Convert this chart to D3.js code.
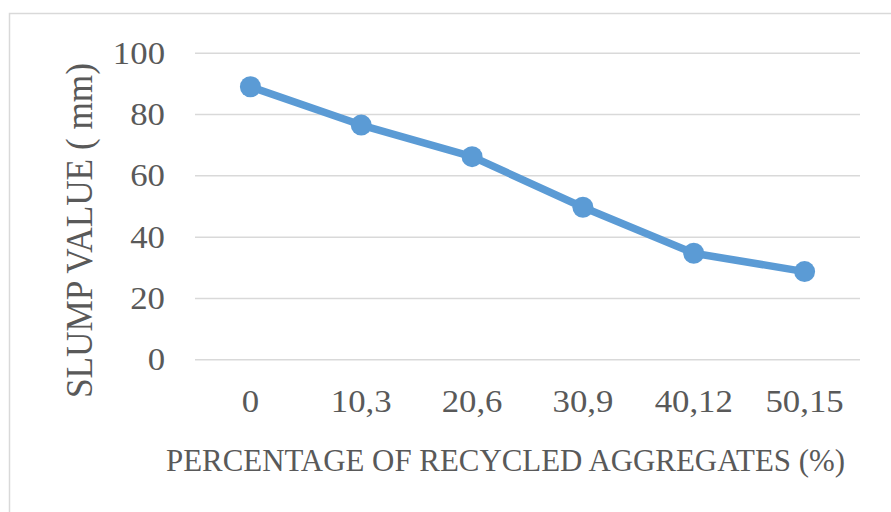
<!DOCTYPE html>
<html>
<head>
<meta charset="utf-8">
<script src="https://cdn.jsdelivr.net/npm/d3@7"></script>
<style>
  html, body { margin: 0; padding: 0; background: #fff; }
  svg { display: block; }
  text { font-family: "Liberation Serif", "DejaVu Serif", serif; fill: #595959; }
</style>
</head>
<body>
<svg id="chart" width="891" height="512"></svg>
<script>
// Slump test results
const categories = ["0", "10,3", "20,6", "30,9", "40,12", "50,15"];
const slumpValues = [88.9, 76.4, 66.1, 49.6, 34.6, 28.6];
const yTicks = [0, 20, 40, 60, 80, 100];
const xTitle = "PERCENTAGE OF RECYCLED AGGREGATES (%)";
const yTitle = "SLUMP VALUE ( mm)";

const width = 891, height = 512;
const plot = { left: 195, right: 860, top: 52.7, bottom: 359.3 };
const tickFont = 30.5;
const tickStretch = 1.14;   // widen serif digits a little

const svg = d3.select("#chart");

// chart frame
svg.append("rect")
  .attr("x", 9.5).attr("y", 13.5)
  .attr("width", width + 10).attr("height", height + 10)
  .attr("fill", "none").attr("stroke", "#d9d9d9").attr("stroke-width", 1.5);

const x = d3.scaleBand().domain(categories).range([plot.left, plot.right]);
const y = d3.scaleLinear().domain([0, 100]).range([plot.bottom, plot.top]);

function stretch(sel, factor) {
  sel.each(function () {
    const w = this.getComputedTextLength();
    d3.select(this).attr("textLength", w * factor).attr("lengthAdjust", "spacingAndGlyphs");
  });
}

// horizontal gridlines + y tick labels
const yAxis = d3.axisLeft(y).tickValues(yTicks).tickSize(-(plot.right - plot.left)).tickPadding(30);
const gy = svg.append("g").attr("transform", `translate(${plot.left},0)`).call(yAxis);
gy.select(".domain").remove();
gy.selectAll(".tick line").attr("stroke", "#d9d9d9").attr("stroke-width", 1.5);
gy.selectAll(".tick text")
  .attr("font-size", tickFont).attr("fill", "#595959")
  .attr("dy", null).attr("y", 10.6)
  .style("font-family", "'Liberation Serif', serif")
  .call(stretch, tickStretch);

// x tick labels
const xAxis = d3.axisBottom(x).tickSize(0).tickPadding(0);
const gx = svg.append("g").attr("transform", `translate(0,${plot.bottom})`).call(xAxis);
gx.select(".domain").remove();
gx.selectAll(".tick text")
  .attr("font-size", tickFont).attr("fill", "#595959")
  .attr("dy", null).attr("y", 52.4)
  .style("font-family", "'Liberation Serif', serif")
  .call(stretch, tickStretch);

// axis titles
svg.append("text")
  .attr("x", 166).attr("y", 471)
  .attr("font-size", 30.5)
  .attr("textLength", 679).attr("lengthAdjust", "spacingAndGlyphs")
  .text(xTitle);

svg.append("text")
  .attr("transform", `translate(92,398) rotate(-90)`)
  .attr("font-size", 37)
  .attr("textLength", 335).attr("lengthAdjust", "spacingAndGlyphs")
  .text(yTitle);

// series line + markers
const cx = d => x(d.cat) + x.bandwidth() / 2;
const data = categories.map((c, i) => ({ cat: c, v: slumpValues[i] }));

svg.append("path")
  .datum(data)
  .attr("fill", "none").attr("stroke", "#5b9bd5")
  .attr("stroke-width", 7.5).attr("stroke-linejoin", "round")
  .attr("d", d3.line().x(cx).y(d => y(d.v)));

svg.selectAll("circle.pt").data(data).join("circle")
  .attr("class", "pt")
  .attr("cx", cx).attr("cy", d => y(d.v)).attr("r", 10.5)
  .attr("fill", "#5b9bd5");
</script>
</body>
</html>
